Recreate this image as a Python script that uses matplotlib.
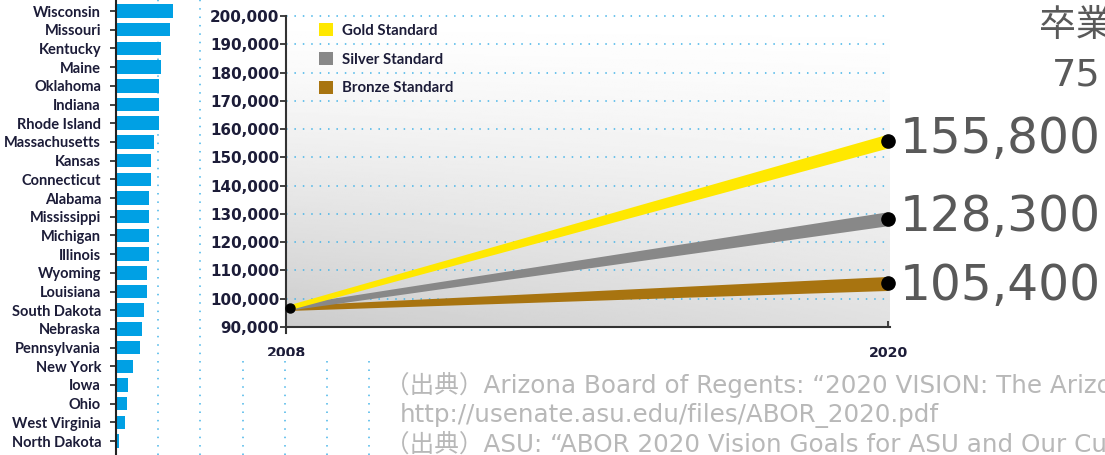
import matplotlib
matplotlib.use("Agg")
import matplotlib.pyplot as plt
import numpy as np

W, H = 1105, 455
DPI = 100

# left bar chart (cropped slide, unit = one dotted grid step / 10)
states = ["Wisconsin", "Missouri", "Kentucky", "Maine", "Oklahoma", "Indiana",
          "Rhode Island", "Massachusetts", "Kansas", "Connecticut", "Alabama",
          "Mississippi", "Michigan", "Illinois", "Wyoming", "Louisiana",
          "South Dakota", "Nebraska", "Pennsylvania", "New York", "Iowa", "Ohio",
          "West Virginia", "North Dakota"]
state_values = [13.6, 12.8, 10.7, 10.7, 10.3, 10.3, 10.3, 9.1, 8.2, 8.2, 7.9, 7.9,
                7.9, 7.9, 7.4, 7.4, 6.6, 6.2, 5.8, 4.1, 2.9, 2.5, 2.1, 0.8]

# line chart
years = [2008, 2020]
gold = [96700, 155800]
silver = [96700, 128300]
bronze = [96700, 105400]
series_names = ["Gold Standard", "Silver Standard", "Bronze Standard"]
end_labels = ["155,800", "128,300", "105,400"]
y_ticks = list(range(90000, 200001, 10000))

source_lines = [
    "（出典）Arizona Board of Regents: “2020 VISION: The Arizona University System”",
    "http://usenate.asu.edu/files/ABOR_2020.pdf",
    "（出典）ASU: “ABOR 2020 Vision Goals for ASU and Our Current Progress”",
]
headline = ["卒業生数", "75"]

BLUE = "#00a0e4"
GRID = "#45b4e8"
NAVY = "#1c1c38"
GOLD, SILVER, BRONZE = "#ffe800", "#888888", "#a87410"
BIG = "#595959"
NARROW = ["Lato", "DejaVu Sans"]
DOTS = (0, (1, 4.5))


def px_axes(fig, x0, y0, x1, y1):
    return fig.add_axes([x0 / W, 1 - y1 / H, (x1 - x0) / W, (y1 - y0) / H])


fig = plt.figure(figsize=(W / DPI, H / DPI), dpi=DPI)

# ---- bar chart ----
row_px, first_row_px = 18.7, 11
ax_bar = px_axes(fig, 116, 0, 385, 455)
ax_bar.barh(np.arange(len(states)), state_values, height=0.72, color=BLUE, zorder=2)
ax_bar.set_ylim((H - first_row_px) / row_px, -first_row_px / row_px)
ax_bar.set_xlim(0, (385 - 116) / 4.22)
ax_bar.set_xticks(range(10, 61, 10))
ax_bar.grid(axis="x", color=GRID, linestyle=DOTS, linewidth=1.1)
ax_bar.set_axisbelow(True)
ax_bar.tick_params(axis="x", length=0, labelbottom=False)
ax_bar.set_yticks(np.arange(len(states)))
ax_bar.set_yticklabels(states, family=NARROW, fontweight="bold", fontsize=10.5, color=NAVY)
ax_bar.tick_params(axis="y", length=4.3, width=1.3, color="#333333", pad=6.5)
for s in ("top", "right", "bottom"):
    ax_bar.spines[s].set_visible(False)
ax_bar.spines["left"].set_linewidth(1.5)
ax_bar.spines["left"].set_color("#222222")

# ---- white overlay of the pasted line chart ----
ax_mask = px_axes(fig, 204, 0, W, 356)
ax_mask.set_facecolor("white")
ax_mask.set_xticks([])
ax_mask.set_yticks([])
for s in ax_mask.spines.values():
    s.set_visible(False)

# ---- line chart ----
ax = px_axes(fig, 286, 16, 890, 327)
ax.set_facecolor("none")
px_per_year = (888 - 286) / 12
ax.set_xlim(2008, 2020 + 2 / px_per_year)
ax.set_ylim(90000, 200000)
px_per_val = 311 / 110000

v = np.linspace(0, 1, 200)[:, None]
h = np.linspace(0, 1, 300)[None, :]
shade = 1 - 0.2 * v ** 1.3 * (1 - 0.4 * h)
ax.imshow(shade, cmap="gray", vmin=0, vmax=1, aspect="auto", origin="upper",
          extent=(*ax.get_xlim(), *ax.get_ylim()), zorder=0)

half = np.array([5, 14]) / 2 / px_per_val
for vals, color, name in zip([bronze, silver, gold], [BRONZE, SILVER, GOLD],
                             series_names[::-1]):
    vals = np.array(vals)
    ax.fill_between(years, vals - half, vals + half, color=color, lw=0,
                    label=name, zorder=3)

ends = [gold[1], silver[1], bronze[1]]
ax.scatter([years[1]] * 3, ends, s=9.5 ** 2, color="black", zorder=5, clip_on=False)
ax.plot(years[0] + 4 / px_per_year, gold[0], "o", ms=6.5, color="black", zorder=5,
        clip_on=False)

label_dy = [-12, -12, -17]
for val, txt, dy in zip(ends, end_labels, label_dy):
    ax.annotate(txt, xy=(years[1], val), xytext=(12, dy), textcoords="offset pixels",
                fontsize=35, color=BIG, ha="left", va="baseline",
                annotation_clip=False)

ax.set_yticks(y_ticks)
ax.set_yticklabels([f"{t:,}" for t in y_ticks], fontweight="bold", fontsize=10.9,
                   color=NAVY)
ax.set_xticks(years)
ax.set_xticklabels([str(y) for y in years], fontweight="bold", fontsize=10.2,
                   color=NAVY)
ax.tick_params(axis="y", length=4.3, width=1.3, color="#333333", pad=0.5)
ax.tick_params(axis="x", direction="in", length=4.3, width=1.3, color="#333333",
               pad=14)
ax.grid(axis="y", color=GRID, linestyle=DOTS, linewidth=1.1)
for gl in ax.get_ygridlines():
    gl.set_clip_on(False)
for s in ("top", "right"):
    ax.spines[s].set_visible(False)
for s in ("left", "bottom"):
    ax.spines[s].set_linewidth(1.5)
    ax.spines[s].set_color("#333333")
ax.spines["left"].set_bounds(90000 - 6 / px_per_val, 200000)

# 2008 label is cut by the edge of the pasted picture
ax.get_xticklabels()[0].set_clip_box(ax_mask.bbox)
ax.get_xticklabels()[0].set_clip_on(True)

handles, labels = ax.get_legend_handles_labels()
ax.legend(handles[::-1], labels[::-1], loc="upper left",
          bbox_to_anchor=(319 / W, 1 - 23 / H), bbox_transform=fig.transFigure,
          frameon=False, borderpad=0, borderaxespad=0, handlelength=0.95,
          handleheight=0.95, handletextpad=0.6, labelspacing=0.95,
          prop={"family": NARROW, "weight": "bold", "size": 10.8},
          labelcolor=NAVY)

# ---- slide texts ----
fig.text(1039 / W, 1 - 36 / H, headline[0], family=["Noto Sans CJK JP"], fontsize=26.6,
         color=BIG, va="baseline")
fig.text(1052 / W, 1 - 85 / H, headline[1], family=["DejaVu Sans", "Noto Sans CJK JP"],
         fontsize=27.6, color=BIG, va="baseline")

for txt, x0, base in zip(source_lines, [385, 400, 385], [393, 422, 452]):
    fig.text(x0 / W, 1 - base / H, txt, family=["DejaVu Sans", "Noto Sans CJK JP"],
             fontsize=17.7, color="#b8b8b8", va="baseline")

fig.savefig("out.png", dpi=DPI)
